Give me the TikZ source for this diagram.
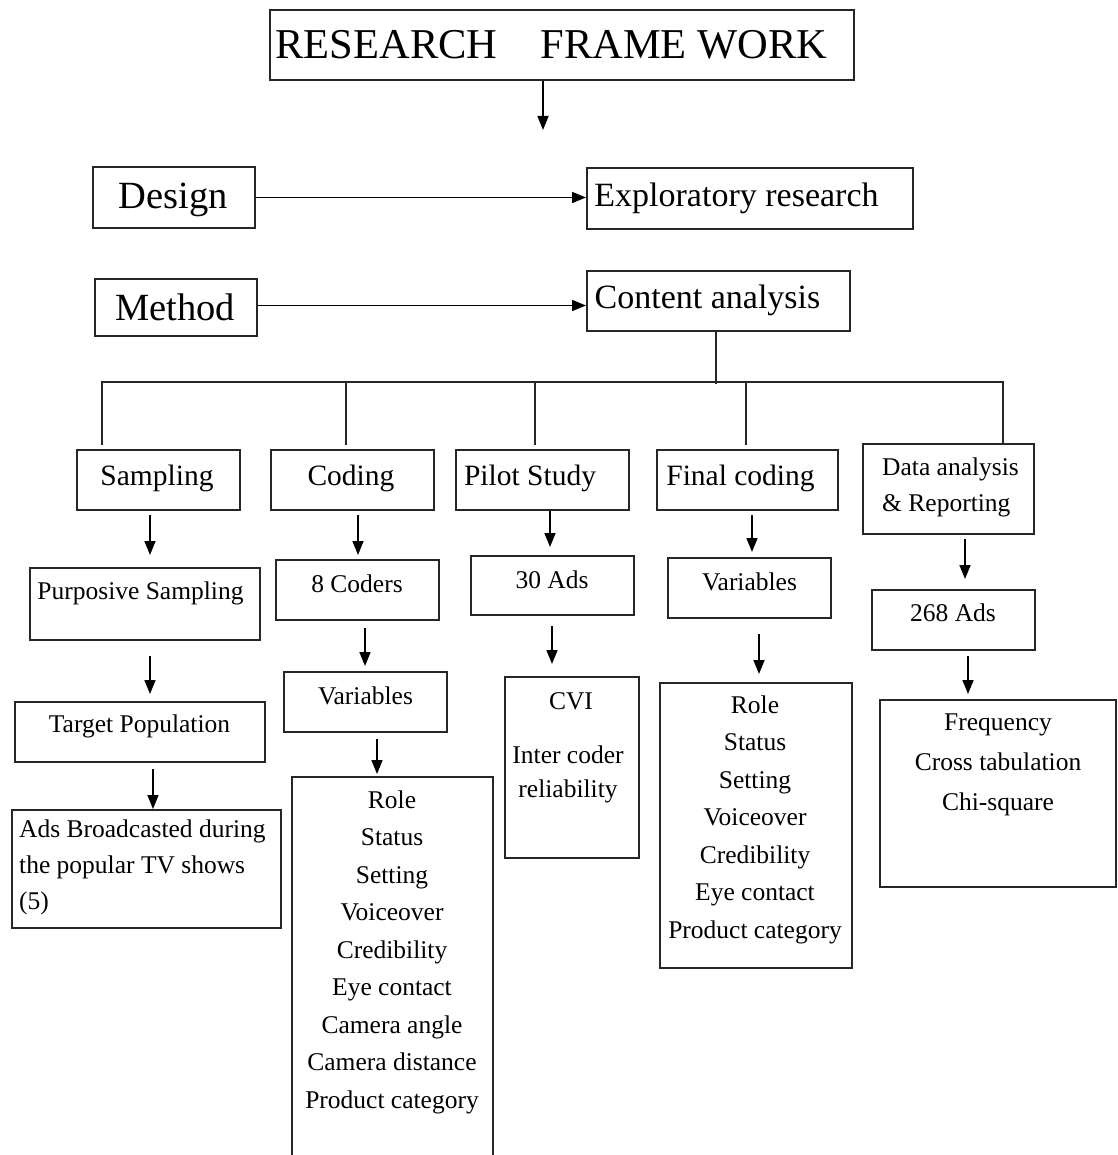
\documentclass[tikz,border=0pt]{standalone}
\usepackage{fontspec}
\setmainfont{Liberation Serif}
\usetikzlibrary{arrows.meta}

% frame box: name, centre x, centre y, width, height (all in pt)
\newcommand\frameat[5]{\node[box, minimum width=#4pt, minimum height=#5pt] (#1) at (#2,#3) {};}

\begin{document}
\begin{tikzpicture}[x=1pt,y=-1pt,
  box/.style={draw=black!85, line width=2pt, inner sep=0pt, rectangle},
  link/.style={draw=black!85, line width=1.9pt},
  arr/.style={line width=1.6pt, -{Triangle[length=14pt,width=11pt]}},
  huge/.style={inner sep=0pt, font=\fontsize{42.5}{50}\selectfont},
  big/.style={inner sep=0pt, font=\fontsize{38.5}{46}\selectfont},
  mid/.style={inner sep=0pt, font=\fontsize{34}{40}\selectfont},
  head/.style={inner sep=0pt, font=\fontsize{29.5}{36}\selectfont},
  txt/.style={inner sep=0pt, font=\fontsize{25.5}{36}\selectfont},
  list/.style={inner sep=0pt, align=center, font=\fontsize{25.5}{37.5}\selectfont},
]
\clip (0,0) rectangle (1117,1155);
\fill[white] (0,0) rectangle (1117,1155);

% ---- top part ----
\frameat{title}{562}{45}{584}{70}
\node[huge] (title-t) at (551.5,45) {RESEARCH\hspace{43pt}FRAME WORK};
\coordinate (topend) at (543,130);
\draw[arr] ([xshift=-19pt]title.south) -- (topend);

\frameat{design}{174}{197.5}{162}{61}
\node[big] (design-t) at (173,200) {Design};
\frameat{expl}{750}{198.5}{326}{61}
\node[mid] (expl-t) at (736.5,198) {Exploratory research};
\draw[arr] (design.east) -- (design.east -| expl.west);

\frameat{method}{176}{307.5}{162}{57}
\node[big] (method-t) at (175,307) {Method};
\frameat{content}{718.5}{301}{263}{60}
\node[mid] (content-t) at (707.5,300) {Content analysis};
\draw[arr] ([yshift=2pt]method.east) -- ([yshift=2pt]method.east -| content.west);

% ---- second level ----
\frameat{samp}{158.5}{480}{163}{60}
\node[head] (samp-t) at (157,478) {Sampling};
\frameat{coding}{352.5}{480}{163}{60}
\node[head] (coding-t) at (351,478) {Coding};
\frameat{pilot}{542.5}{480}{173}{60}
\node[head] (pilot-t) at (530,478) {Pilot Study};
\frameat{final}{747.5}{480}{181}{60}
\node[head] (final-t) at (740.5,478) {Final coding};
\frameat{data}{948.5}{489}{171}{90}
\node[txt, anchor=west, align=left] (data-t) at (882,487) {Data analysis\\\& Reporting};

% branching bar
\draw[link] ([xshift=-2.5pt]content.south) -- ++(0,52);
\draw[link] ([xshift=-56.5pt,yshift=4pt]samp.north) -- ++(0,-63) -| ([xshift=54.5pt]data.north);
\draw[link] ([xshift=-6.5pt,yshift=4pt]coding.north) -- ++(0,-63);
\draw[link] ([xshift=-7.5pt,yshift=4pt]pilot.north) -- ++(0,-63);
\draw[link] ([xshift=-1.5pt,yshift=4pt]final.north) -- ++(0,-63);

% ---- sampling column ----
\frameat{purp}{145}{604}{230}{72}
\node[txt] (purp-t) at (140.5,593) {Purposive Sampling};
\frameat{target}{140}{732}{250}{60}
\node[txt] (target-t) at (139.5,726) {Target Population};
\frameat{adsb}{146.5}{869}{269}{118}
\node[txt, anchor=west, align=left] (adsb-t) at (19,867) {Ads Broadcasted during\\the popular TV shows\\(5)};
\draw[arr] ([xshift=-8.5pt,yshift=-4pt]samp.south) -- ([xshift=5pt,yshift=12pt]purp.north);
\draw[arr] ([xshift=5pt,yshift=-15pt]purp.south) -- ([xshift=10pt,yshift=7pt]target.north);
\draw[arr] ([xshift=13pt,yshift=-6pt]target.south) -- ([xshift=6.5pt]adsb.north);

% ---- coding column ----
\frameat{coders}{357.5}{590}{163}{60}
\node[txt] (coders-t) at (357,584) {8 Coders};
\frameat{varA}{365.5}{702}{163}{60}
\node[txt] (varA-t) at (365.5,696) {Variables};
\frameat{listA}{392.5}{971}{201}{388}
\node[list] (listA-t) at (392,952) {Role\\Status\\Setting\\Voiceover\\Credibility\\Eye contact\\Camera angle\\Camera distance\\Product category};
\draw[arr] ([xshift=5.5pt,yshift=-4pt]coding.south) -- ([xshift=0.5pt,yshift=4pt]coders.north);
\draw[arr] ([xshift=7.5pt,yshift=-7pt]coders.south) -- ([xshift=-0.5pt,yshift=5pt]varA.north);
\draw[arr] ([xshift=11.5pt,yshift=-6pt]varA.south) -- ([xshift=-15.5pt,yshift=2pt]listA.north);

% ---- pilot study column ----
\frameat{adsA}{552.5}{585.5}{163}{59}
\node[txt] (adsA-t) at (552,580) {30 Ads};
\frameat{cvi}{572}{767.5}{134}{181}
\node[txt] (cvi-t) at (571,701) {CVI};
\node[txt, align=center, font=\fontsize{25.5}{34}\selectfont] (icr-t) at (568,774) {Inter coder\\reliability};
\draw[arr] ([xshift=7.5pt]pilot.south) -- ([xshift=-2.5pt,yshift=8pt]adsA.north);
\draw[arr] ([xshift=-0.5pt,yshift=-10pt]adsA.south) -- ([xshift=-20pt,yshift=12pt]cvi.north);

% ---- final coding column ----
\frameat{varB}{749.5}{588}{163}{60}
\node[txt] (varB-t) at (749.5,582) {Variables};
\frameat{listB}{756}{825.5}{192}{285}
\node[list] (listB-t) at (755,819.5) {Role\\Status\\Setting\\Voiceover\\Credibility\\Eye contact\\Product category};
\draw[arr] ([xshift=4.5pt,yshift=-4pt]final.south) -- ([xshift=2.5pt,yshift=5pt]varB.north);
\draw[arr] ([xshift=9.5pt,yshift=-15pt]varB.south) -- ([xshift=3pt,yshift=8pt]listB.north);

% ---- data analysis column ----
\frameat{adsB}{953.5}{620}{163}{60}
\node[txt] (adsB-t) at (953,613) {268 Ads};
\frameat{freq}{998}{793.5}{236}{187}
\node[list, font=\fontsize{25.5}{40}\selectfont] (freq-t) at (998,765) {Frequency\\Cross tabulation\\Chi-square};
\draw[arr] ([xshift=16.5pt,yshift=-4pt]data.south) -- ([xshift=11.5pt,yshift=10pt]adsB.north);
\draw[arr] ([xshift=14.5pt,yshift=-5pt]adsB.south) -- ([xshift=-30pt,yshift=5pt]freq.north);
\end{tikzpicture}
\end{document}
